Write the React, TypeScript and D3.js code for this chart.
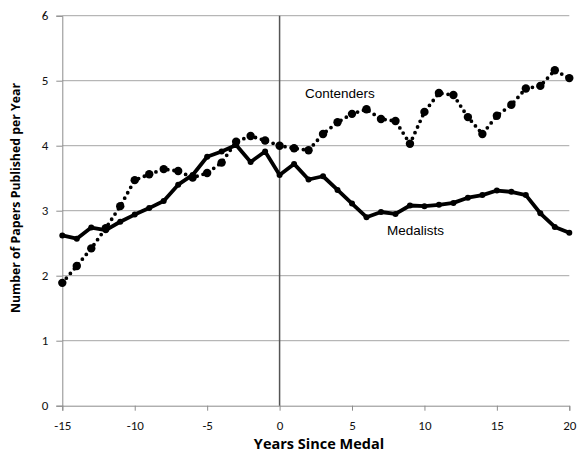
import { useEffect, useRef } from "react";
import * as d3 from "d3";

// years since medal, -15 .. 20
const years = d3.range(-15, 21);

const medalists = [
  2.62, 2.57, 2.74, 2.7, 2.83, 2.94, 3.04, 3.15, 3.4, 3.55, 3.83, 3.91, 4.01,
  3.75, 3.91, 3.55, 3.72, 3.48, 3.53, 3.32, 3.11, 2.9, 2.98, 2.95, 3.08, 3.07,
  3.09, 3.12, 3.2, 3.24, 3.31, 3.29, 3.24, 2.96, 2.75, 2.66,
];

const contenders = [
  1.89, 2.15, 2.42, 2.73, 3.07, 3.47, 3.56, 3.64, 3.61, 3.51, 3.58, 3.74, 4.06,
  4.15, 4.08, 4.0, 3.96, 3.93, 4.18, 4.36, 4.49, 4.56, 4.41, 4.38, 4.03, 4.52,
  4.81, 4.78, 4.44, 4.18, 4.46, 4.63, 4.88, 4.92, 5.16, 5.04,
];

const xTicks = [-15, -10, -5, 0, 5, 10, 15, 20];
const yTicks = [0, 1, 2, 3, 4, 5, 6];

const App = () => {
  const ref = useRef<SVGSVGElement>(null);

  useEffect(() => {
    draw();
  }, []);

  const draw = () => {
    const width = 577;
    const height = 455;
    const margin = { top: 15.7, right: 7.7, bottom: 49.3, left: 62.3 };

    const svg = d3.select(ref.current);
    svg.selectAll("*").remove();
    svg.attr("width", width).attr("height", height);

    const xScale = d3
      .scaleLinear()
      .domain([-15, 20])
      .range([margin.left, width - margin.right]);
    const yScale = d3
      .scaleLinear()
      .domain([0, 6])
      .range([height - margin.bottom, margin.top]);

    const tickFont = "Carlito, Lato, 'Open Sans', sans-serif";
    const titleFont = "'Open Sans', Lato, sans-serif";

    // horizontal gridlines
    svg
      .append("g")
      .selectAll("line")
      .data(yTicks.filter((t) => t > 0))
      .join("line")
      .attr("x1", margin.left)
      .attr("x2", width - margin.right)
      .attr("y1", (d) => yScale(d))
      .attr("y2", (d) => yScale(d))
      .attr("stroke", "#a6a6a6")
      .attr("stroke-width", 1);

    // y axis
    const yAxis = svg
      .append("g")
      .attr("transform", `translate(${margin.left},0)`)
      .call(
        d3
          .axisLeft(yScale)
          .tickValues(yTicks)
          .tickFormat((d) => String(d))
          .tickSize(6)
          .tickPadding(8)
      );
    yAxis.select(".domain").attr("stroke", "#8c8c8c");
    yAxis.selectAll(".tick line").attr("stroke", "#8c8c8c");
    yAxis
      .selectAll("text")
      .attr("font-family", tickFont)
      .attr("font-size", 13)
      .attr("fill", "#111");

    // x axis
    const xAxis = svg
      .append("g")
      .attr("transform", `translate(0,${yScale(0)})`)
      .call(
        d3
          .axisBottom(xScale)
          .tickValues(xTicks)
          .tickFormat((d) => String(d))
          .tickSize(5)
          .tickPadding(10)
      );
    xAxis.select(".domain").attr("stroke", "#8c8c8c");
    xAxis.selectAll(".tick line").attr("stroke", "#8c8c8c");
    xAxis
      .selectAll("text")
      .attr("font-family", tickFont)
      .attr("font-size", 13)
      .attr("fill", "#111");

    // medal year marker
    svg
      .append("line")
      .attr("x1", xScale(0))
      .attr("x2", xScale(0))
      .attr("y1", yScale(6))
      .attr("y2", yScale(0))
      .attr("stroke", "#555")
      .attr("stroke-width", 1.5);

    const line = d3
      .line<number>()
      .x((d, i) => xScale(years[i]))
      .y((d) => yScale(d));

    // contenders: dotted with markers
    svg
      .append("path")
      .datum(contenders)
      .attr("d", line)
      .attr("fill", "none")
      .attr("stroke", "#000")
      .attr("stroke-width", 3.8)
      .attr("stroke-linecap", "round")
      .attr("stroke-dasharray", "0,6.2");
    svg
      .append("g")
      .selectAll("circle")
      .data(contenders)
      .join("circle")
      .attr("cx", (d, i) => xScale(years[i]))
      .attr("cy", (d) => yScale(d))
      .attr("r", 4.2)
      .attr("fill", "#000");

    // medalists: solid with markers
    svg
      .append("path")
      .datum(medalists)
      .attr("d", line)
      .attr("fill", "none")
      .attr("stroke", "#000")
      .attr("stroke-width", 3.8)
      .attr("stroke-linejoin", "round");
    svg
      .append("g")
      .selectAll("circle")
      .data(medalists)
      .join("circle")
      .attr("cx", (d, i) => xScale(years[i]))
      .attr("cy", (d) => yScale(d))
      .attr("r", 3)
      .attr("fill", "#000");

    // series labels
    svg
      .append("text")
      .attr("x", 305)
      .attr("y", 98)
      .attr("font-family", "'Liberation Sans', Arial, sans-serif")
      .attr("font-size", 13.5)
      .text("Contenders");
    svg
      .append("text")
      .attr("x", 387)
      .attr("y", 235)
      .attr("font-family", "'Liberation Sans', Arial, sans-serif")
      .attr("font-size", 13.5)
      .text("Medalists");

    // axis titles
    svg
      .append("text")
      .attr("x", 319)
      .attr("y", 449)
      .attr("text-anchor", "middle")
      .attr("font-family", titleFont)
      .attr("font-weight", "bold")
      .attr("font-size", 14.5)
      .text("Years Since Medal");
    svg
      .append("text")
      .attr("transform", `translate(20,198) rotate(-90)`)
      .attr("text-anchor", "middle")
      .attr("font-family", titleFont)
      .attr("font-weight", "bold")
      .attr("font-size", 12.3)
      .text("Number of Papers Published per Year");
  };

  return (
    <div style={{ position: "absolute", left: 0, top: 0 }}>
      <svg ref={ref} style={{ display: "block", background: "#fff" }}></svg>
    </div>
  );
};

export default App;
